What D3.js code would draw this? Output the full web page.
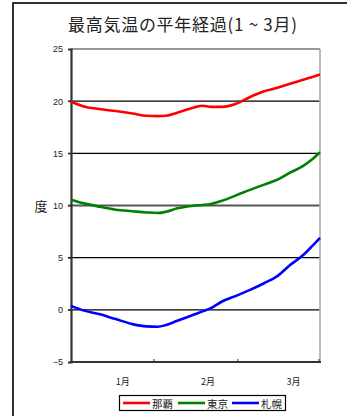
<!DOCTYPE html>
<html><head><meta charset="utf-8">
<script src="https://cdn.jsdelivr.net/npm/d3@7"></script>
<style>body{margin:0;background:#fff}svg{display:block}</style>
</head><body>
<script>
const title = "最高気温の平年経過(1 ~ 3月)";
const seriesNames = ["那覇", "東京", "札幌"];
const seriesColors = ["#ff0000", "#008000", "#0000ff"];
const days = [0,5,10,16,22,27,31,34,38,44,47,50,54,59,64,69,74,78,83,86,89];
const naha    = [19.95,19.47,19.25,19.05,18.82,18.6,18.57,18.6,18.9,19.4,19.56,19.45,19.45,19.75,20.4,20.95,21.3,21.65,22.05,22.3,22.55];
const tokyo   = [10.56,10.18,9.89,9.6,9.45,9.33,9.28,9.4,9.73,9.98,10.05,10.15,10.45,10.97,11.5,12.0,12.5,13.1,13.8,14.38,15.1];
const sapporo = [0.38,-0.1,-0.41,-0.89,-1.37,-1.59,-1.62,-1.45,-1.05,-0.45,-0.15,0.16,0.8,1.34,1.91,2.55,3.28,4.23,5.25,6.05,6.9];
const yTicks = [-5,0,5,10,15,20,25];
const monthTickDays = [30, 60, 89];
const monthLabels = ["1月", "2月", "3月"];
const monthLabelDays = [18.5, 49, 79.5];
const yLabel = "度";

const W = 347, H = 416;
const svg = d3.select("body").append("svg").attr("width", W).attr("height", H);
const L = 71, R = 320, T = 49, B = 362;
const x = d3.scaleLinear().domain([0, 89]).range([L, R]);
const y = d3.scaleLinear().domain([-5, 25]).range([B, T]);

// outer frame
svg.append("rect").attr("x", 13).attr("y", 3).attr("width", 500).attr("height", 500)
  .attr("fill", "none").attr("stroke", "#000").attr("stroke-width", 1.6);

// title
svg.append("text").attr("x", 68).attr("y", 31)
  .attr("font-family", "'Noto Sans CJK JP', sans-serif").attr("font-size", 17)
  .attr("textLength", 229).attr("lengthAdjust", "spacing")
  .attr("fill", "#222").text(title);

// gridlines
svg.append("g").selectAll("line").data(yTicks.filter(d => d > -5 && d < 25)).join("line")
  .attr("x1", L - 3).attr("x2", R).attr("y1", d => y(d)).attr("y2", d => y(d))
  .attr("stroke", d => d === 10 ? "#555" : "#000")
  .attr("stroke-width", d => d === 10 ? 2 : 1.2);

// frame of plot
svg.append("line").attr("x1", L).attr("x2", R).attr("y1", T).attr("y2", T).attr("stroke", "#777").attr("stroke-width", 1.6);
svg.append("line").attr("x1", R).attr("x2", R).attr("y1", T).attr("y2", B).attr("stroke", "#aaa").attr("stroke-width", 1.6);

// y axis
const yAxis = d3.axisLeft(y).tickValues(yTicks).tickSize(3).tickFormat(d3.format("d"));
const gy = svg.append("g").attr("transform", `translate(${L},0)`).call(yAxis);
gy.select(".domain").attr("stroke", "#333").attr("stroke-width", 2.2);
gy.selectAll(".tick line").attr("stroke", "#333");
gy.selectAll("text").attr("font-family", "'Liberation Sans', Arial, sans-serif").attr("font-size", 9).attr("fill", "#222").attr("x", -8);

// x axis
svg.append("line").attr("x1", L - 1).attr("x2", R + 1).attr("y1", B).attr("y2", B).attr("stroke", "#333").attr("stroke-width", 2.2);
svg.append("g").selectAll("line").data(monthTickDays).join("line")
  .attr("x1", d => x(d) - 1).attr("x2", d => x(d) - 1).attr("y1", B).attr("y2", B - 3)
  .attr("stroke", "#333").attr("stroke-width", 1);
svg.append("g").selectAll("text").data(monthLabels).join("text")
  .attr("x", (d, i) => x(monthLabelDays[i])).attr("y", 385).attr("text-anchor", "middle")
  .attr("font-family", "'Noto Sans CJK JP', sans-serif").attr("font-size", 9).attr("fill", "#222")
  .text(d => d);

// y label
svg.append("text").attr("x", 41).attr("y", 211).attr("text-anchor", "middle")
  .attr("font-family", "'Noto Sans CJK JP', sans-serif").attr("font-size", 13).attr("fill", "#222").text(yLabel);

// lines
const allSeries = [naha, tokyo, sapporo];
const line = d3.line().x(d => x(d[0])).y(d => y(d[1])).curve(d3.curveMonotoneX);
svg.append("g").selectAll("path").data(allSeries).join("path")
  .attr("d", s => line(days.map((d, i) => [d, s[i]])))
  .attr("fill", "none").attr("stroke", (d, i) => seriesColors[i]).attr("stroke-width", 2.6)
  .attr("stroke-linejoin", "round");

// legend
const lg = svg.append("g");
lg.append("rect").attr("x", 119.5).attr("y", 395.5).attr("width", 166).attr("height", 15)
  .attr("fill", "#fff").attr("stroke", "#000").attr("stroke-width", 1.2);
const legX = [123, 178, 232];
seriesNames.forEach((n, i) => {
  lg.append("line").attr("x1", legX[i]).attr("x2", legX[i] + 27).attr("y1", 403).attr("y2", 403)
    .attr("stroke", seriesColors[i]).attr("stroke-width", 2.6);
  lg.append("text").attr("x", legX[i] + 29).attr("y", 407.5)
    .attr("font-family", "'Noto Sans CJK JP', sans-serif").attr("font-size", 10.5).attr("fill", "#222").text(n);
});
</script>
</body></html>
